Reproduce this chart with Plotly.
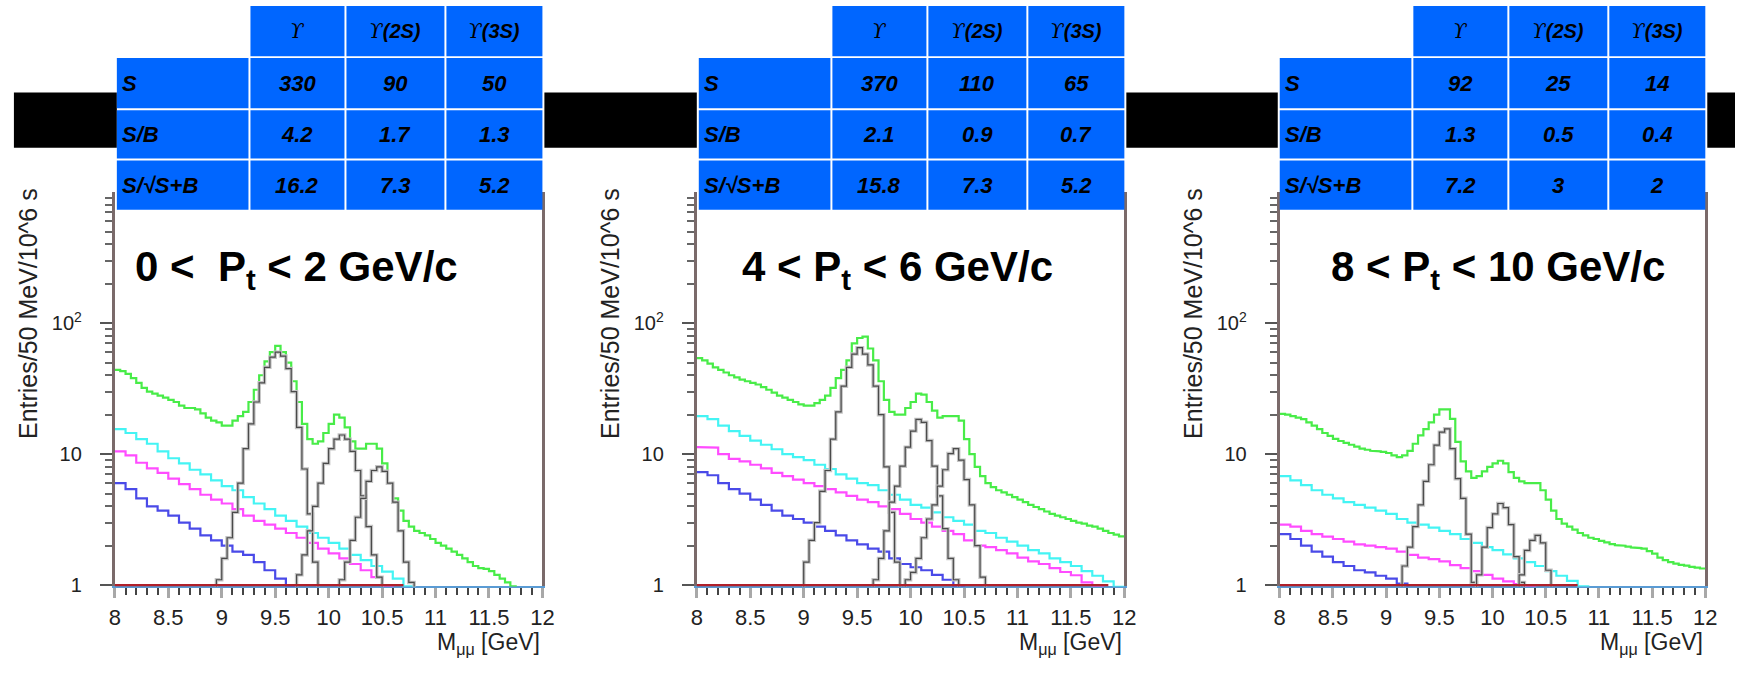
import numpy as np
import plotly.graph_objects as go

# ------------------------------------------------------------------ data
panel_titles = ["0 <\u00a0 P<sub>t</sub> < 2 GeV/c",
                "4 < P<sub>t</sub> < 6 GeV/c",
                "8 < P<sub>t</sub> < 10 GeV/c"]
col_headers = ["\u03d2", "\u03d2(2S)", "\u03d2(3S)"]
row_labels = ["S", "S/B", "S/\u221aS+B"]
table_p1 = [["330", "90", "50"], ["4.2", "1.7", "1.3"], ["16.2", "7.3", "5.2"]]
table_p2 = [["370", "110", "65"], ["2.1", "0.9", "0.7"], ["15.8", "7.3", "5.2"]]
table_p3 = [["92", "25", "14"], ["1.3", "0.5", "0.4"], ["7.2", "3", "2"]]

x_ticks = [8, 8.5, 9, 9.5, 10, 10.5, 11, 11.5, 12]
y_tickvals = [1, 10, 100]
y_ticktext = ["1", "10", "10<sup>2</sup>"]
y_minor = [2, 3, 4, 5, 6, 7, 8, 9, 20, 30, 40, 50, 60, 70, 80, 90,
           200, 300, 400, 500, 600, 700, 800, 900]

M_START = 8.0
GREEN_BIN = 0.05
BKG_BIN = 0.1
PEAK_BIN = 0.05

# total (green), 50 MeV bins from 8.0
green_p1 = [44, 43, 41, 38, 35, 32, 30, 29, 28, 27,
            26, 25, 23.5, 22.5, 22.5, 22, 20.5, 19, 18, 17.5,
            16.5, 16.5, 18, 19.5, 21, 25, 31, 40, 51, 60,
            67, 60, 50, 36, 25, 17, 13, 12, 12.5, 14.5,
            17, 20, 19, 16, 12.5, 11, 11, 12, 12, 11,
            8.5, 6.0, 4.6, 3.7, 3.1, 2.8, 2.6, 2.5, 2.4, 2.25,
            2.1, 2.0, 1.9, 1.8, 1.7, 1.6, 1.5, 1.4, 1.35, 1.33,
            1.28, 1.2, 1.12, 1.05, 0.98, 0.92, 0.87, 0.82, 0.78, 0.74]
green_p2 = [54, 52, 49, 46, 44, 42, 40, 38.5, 37, 36,
            35, 34, 32.5, 31, 29.5, 28, 27, 26, 25, 24,
            23.5, 23.5, 24.5, 26, 28, 32, 38, 44, 52, 70,
            77, 79, 64, 52, 36, 26, 21, 20, 20, 22.5,
            25, 29, 28.5, 25, 21.5, 19, 19.5, 19.5, 19.5, 18,
            13, 10, 8.0, 6.8, 6.0, 5.6, 5.3, 5.1, 4.9, 4.7,
            4.5, 4.3, 4.1, 3.95, 3.8, 3.65, 3.5, 3.4, 3.3, 3.2,
            3.1, 3.0, 2.95, 2.85, 2.8, 2.7, 2.6, 2.5, 2.43, 2.36]
green_p3 = [20.3, 20, 19.5, 19, 18.5, 17.5, 16.5, 15.5, 14.5, 13.8,
            13.1, 12.6, 12.2, 11.8, 11.4, 11.0, 10.8, 10.6, 10.5, 10.4,
            10.2, 9.8, 9.5, 9.8, 10.6, 12, 13.9, 15.5, 17.5, 20,
            22, 22, 18.6, 12.4, 8.8, 7.4, 6.6, 6.8, 7.4, 8.0,
            8.5, 8.9, 8.5, 7.3, 6.6, 6.2, 6.0, 6.0, 6.0, 5.3,
            4.5, 3.7, 3.2, 2.95, 2.8, 2.65, 2.5, 2.4, 2.3, 2.25,
            2.18, 2.12, 2.06, 2.02, 2.0, 1.97, 1.94, 1.92, 1.9, 1.82,
            1.74, 1.62, 1.55, 1.5, 1.46, 1.43, 1.41, 1.38, 1.36, 1.34]

# background components, 100 MeV steps from 8.0
cyan_p1 = [15.5, 14.5, 13, 12, 10.5, 9.3, 8.5, 7.6, 7.0, 6.3,
           5.7, 5.3, 4.7, 4.2, 3.8, 3.4, 3.1, 2.8, 2.5, 2.3,
           2.1, 1.9, 1.7, 1.55, 1.4, 1.27, 1.12, 0.98, 0.9, 0.8]
magenta_p1 = [10.5, 9.8, 8.6, 7.8, 7.2, 6.5, 5.9, 5.4, 4.9, 4.5,
              4.2, 3.8, 3.4, 3.1, 2.9, 2.7, 2.5, 2.3, 2.1, 1.9,
              1.75, 1.6, 1.45, 1.3, 1.15, 0.98, 0.9, 0.82]
blue_p1 = [6.0, 5.4, 4.6, 4.0, 3.7, 3.4, 3.0, 2.7, 2.4, 2.2,
           2.0, 1.8, 1.7, 1.5, 1.3, 1.12, 0.97, 0.88, 0.8]

cyan_p2 = [19.5, 18.5, 16.5, 15, 13.8, 12.7, 11.8, 10.9, 10.0, 9.5,
           9.0, 8.3, 7.7, 7.0, 6.5, 6.0, 5.8, 5.3, 4.9, 4.5,
           4.1, 3.9, 3.6, 3.3, 3.1, 2.9, 2.6, 2.5, 2.3, 2.15,
           2.0, 1.85, 1.75, 1.6, 1.5, 1.4, 1.28, 1.18, 1.07, 0.97]
magenta_p2 = [11.3, 11.2, 10.0, 9.2, 8.8, 8.3, 7.8, 7.2, 6.8, 6.4,
              6.0, 5.7, 5.4, 5.1, 4.8, 4.5, 4.3, 4.0, 3.8, 3.5,
              3.2, 3.0, 2.8, 2.6, 2.45, 2.2, 2.0, 1.95, 1.85, 1.75,
              1.62, 1.52, 1.45, 1.35, 1.26, 1.19, 1.05, 0.97, 0.9, 0.85]
blue_p2 = [7.3, 6.9, 6.0, 5.4, 5.0, 4.5, 4.1, 3.7, 3.4, 3.2,
           3.0, 2.8, 2.6, 2.4, 2.2, 2.05, 1.9, 1.8, 1.6, 1.45,
           1.37, 1.3, 1.2, 1.1, 0.97, 0.9, 0.85]

cyan_p3 = [6.8, 6.3, 5.8, 5.3, 4.9, 4.6, 4.3, 4.1, 3.9, 3.7,
           3.5, 3.2, 3.0, 2.9, 2.75, 2.6, 2.45, 2.25, 2.1, 1.95,
           1.85, 1.72, 1.6, 1.5, 1.4, 1.28, 1.18, 1.08, 0.98, 0.9]
magenta_p3 = [2.9, 2.8, 2.6, 2.45, 2.35, 2.25, 2.15, 2.05, 2.0, 1.95,
              1.9, 1.8, 1.7, 1.62, 1.58, 1.52, 1.42, 1.35, 1.28, 1.2,
              1.12, 1.07, 1.02, 0.97, 0.92, 0.88]
blue_p3 = [2.45, 2.25, 2.0, 1.8, 1.65, 1.5, 1.4, 1.3, 1.25, 1.18,
           1.12, 1.03, 0.95, 0.9, 0.86]

# Upsilon signal peaks: (first bin edge, 50 MeV bin contents)
peaks_p1 = [(8.95, [1.1, 1.6, 2.3, 3.6, 6.0, 11, 17, 25, 35, 46, 55, 60, 56, 45, 30, 16, 7.7, 3.5, 1.5]),
            (9.70, [1.2, 1.7, 2.6, 4.0, 6.0, 8.5, 11, 13, 14, 13, 10.5, 7.5, 4.8, 2.8, 1.7, 1.15]),
            (10.10, [1.1, 1.5, 2.2, 3.3, 4.6, 6.2, 7.5, 8.0, 7.4, 6.0, 4.3, 2.6, 1.5, 1.05])]
peaks_p2 = [(9.00, [1.5, 2.2, 3.0, 5.2, 7.5, 13, 21, 33, 46, 58, 65, 58, 48, 33, 20, 8, 3.6, 1.5]),
            (9.65, [1.1, 1.6, 2.6, 4.3, 5.7, 8.1, 11.3, 15, 18.4, 17.5, 12.7, 8.1, 4.8, 2.7, 1.6, 1.1]),
            (9.95, [1.1, 1.25, 1.6, 2.3, 3.2, 4.1, 5.7, 7.6, 10.1, 11, 9.0, 6.4, 4.1, 2.0, 1.15])]
peaks_p3 = [(9.15, [1.4, 1.95, 2.8, 4.1, 6.2, 8.3, 11.7, 14.7, 15.6, 11, 6.5, 4.6, 2.45, 1.05]),
            (9.85, [1.2, 1.95, 2.75, 3.5, 4.2, 3.9, 2.9, 1.65, 1.05]),
            (10.25, [1.2, 1.84, 2.2, 2.4, 2.1, 1.3])]

# extent of the (sub-floor) red component drawn along the log floor
red_floor_end = [10.7, 11.85, 10.8]

panels = [
    dict(green=green_p1, cyan=cyan_p1, magenta=magenta_p1, blue=blue_p1, peaks=peaks_p1, table=table_p1),
    dict(green=green_p2, cyan=cyan_p2, magenta=magenta_p2, blue=blue_p2, peaks=peaks_p2, table=table_p2),
    dict(green=green_p3, cyan=cyan_p3, magenta=magenta_p3, blue=blue_p3, peaks=peaks_p3, table=table_p3),
]

# ------------------------------------------------------------------ layout constants (pixels)
W, H = 1747, 674
PANEL_L = [110, 698, 1287]
PANEL_R = [542, 1130, 1717]
TABLE_L = [112, 700, 1287]
TOP_PX, BOT_PX = 195.0, 595.3
YRANGE = [-0.01, 3.0]
COLS = [(0, 133), (135, 230), (232, 331), (333, 430)]
ROWS = [(6, 57), (59, 110), (112, 161), (163, 213)]
BARS = [(8, 112), (544, 698), (1132, 1285), (1719, 1747)]
BAR_Y = (94, 150)
TITLE_X = [294, 901, 1508]
TITLE_Y = 274
YTITLE_DX = -87
YTITLE_Y = 318
XTITLE_Y = 653
TABLE_BLUE = "#0066ff"
FLOOR = 0.5  # level used to drop histogram edges below the log floor


def fx(p):
    return p / W


def fy(p):
    return 1 - p / H


def steps(start, width, vals, close=False):
    vals = np.asarray(vals, float)
    edges = start + width * np.arange(len(vals) + 1)
    x = np.repeat(edges, 2)[1:-1]
    y = np.repeat(vals, 2)
    if close:
        x = np.concatenate([[edges[0]], x, [edges[-1]]])
        y = np.concatenate([[FLOOR], y, [FLOOR]])
    return x, y


fig = go.Figure()
shapes = []
annotations = []

for i, pdata in enumerate(panels):
    sfx = "" if i == 0 else str(i + 1)
    xa, ya = "x" + sfx, "y" + sfx

    for key, color in [("blue", "#4a4ae8"), ("magenta", "#ff4cff"), ("cyan", "#44f4f4")]:
        x, y = steps(M_START, BKG_BIN, pdata[key])
        fig.add_trace(go.Scatter(x=x, y=y, mode="lines", line=dict(color=color, width=2.2),
                                 xaxis=xa, yaxis=ya, showlegend=False, hoverinfo="skip"))
    x, y = steps(M_START, GREEN_BIN, pdata["green"])
    fig.add_trace(go.Scatter(x=x, y=y, mode="lines", line=dict(color="#48ec48", width=2.2),
                             xaxis=xa, yaxis=ya, showlegend=False, hoverinfo="skip"))
    for start, vals in pdata["peaks"]:
        x, y = steps(start, PEAK_BIN, vals, close=True)
        fig.add_trace(go.Scatter(x=x, y=y, mode="lines", line=dict(color="#c4c4c4", width=3.5),
                                 xaxis=xa, yaxis=ya, showlegend=False, hoverinfo="skip"))
        fig.add_trace(go.Scatter(x=x, y=y, mode="lines", line=dict(color="#4a4a4a", width=1.2),
                                 xaxis=xa, yaxis=ya, showlegend=False, hoverinfo="skip"))
    fig.add_trace(go.Scatter(x=[M_START, red_floor_end[i]], y=[1, 1], mode="lines",
                             line=dict(color="#b0202a", width=2.5),
                             xaxis=xa, yaxis=ya, showlegend=False, hoverinfo="skip"))

    fig.layout["xaxis" + sfx] = dict(
        domain=[fx(PANEL_L[i]), fx(PANEL_R[i])], range=[8, 12], anchor=ya,
        tickmode="array", tickvals=x_ticks, ticks="outside", ticklen=10, tickwidth=2.5,
        tickcolor="#a8a8a8", showline=True, linecolor="#5a9bd4", linewidth=2,
        showgrid=False, zeroline=False, layer="below traces",
        tickfont=dict(family="Liberation Sans", size=22, color="#222"),
        minor=dict(dtick=0.1, tick0=8, ticks="outside", ticklen=7, tickwidth=2, tickcolor="#444"),
        fixedrange=True,
    )
    fig.layout["yaxis" + sfx] = dict(
        type="log", domain=[fy(BOT_PX), fy(TOP_PX)], range=YRANGE, anchor=xa,
        tickmode="array", tickvals=y_tickvals, ticktext=y_ticktext,
        ticks="outside", ticklen=12, tickwidth=2, tickcolor="#555",
        showline=True, linecolor="#7a6a6a", linewidth=3, mirror=True,
        showgrid=False, zeroline=False, layer="below traces",
        tickfont=dict(family="Liberation Sans", size=20, color="#222"),
        ticklabelstandoff=14,
        minor=dict(tickmode="array", tickvals=y_minor, ticks="outside", ticklen=7,
                   tickwidth=2, tickcolor="#666"),
        fixedrange=True,
    )

    # panel title
    annotations.append(dict(
        x=fx(TITLE_X[i]), y=fy(TITLE_Y), xref="paper", yref="paper",
        xanchor="center", yanchor="middle", showarrow=False, text=panel_titles[i],
        font=dict(family="Liberation Sans", size=42, color="#000", weight="bold")))
    # axis titles
    annotations.append(dict(
        x=fx(PANEL_L[i] + YTITLE_DX), y=fy(YTITLE_Y), xref="paper", yref="paper",
        xanchor="center", yanchor="middle", showarrow=False, textangle=-90,
        text="Entries/50 MeV/10^6 s",
        font=dict(family="Liberation Sans", size=25, color="#222")))
    annotations.append(dict(
        x=fx(PANEL_R[i]), y=fy(XTITLE_Y), xref="paper", yref="paper",
        xanchor="right", yanchor="middle", showarrow=False,
        text="M<sub>\u03bc\u03bc</sub> [GeV]",
        font=dict(family="Liberation Sans", size=23, color="#222")))

# black bars behind the tables
for (a, b) in BARS:
    shapes.append(dict(type="rect", xref="paper", yref="paper", layer="above",
                       x0=fx(a), x1=fx(b), y0=fy(BAR_Y[1]), y1=fy(BAR_Y[0]),
                       fillcolor="#000", line=dict(width=0)))

cell_font = dict(family="Liberation Sans", size=22, color="#000", weight="bold", style="italic")
for i, pdata in enumerate(panels):
    L = TABLE_L[i]
    for r, (r0, r1) in enumerate(ROWS):
        for c, (c0, c1) in enumerate(COLS):
            if r == 0 and c == 0:
                continue
            shapes.append(dict(type="rect", xref="paper", yref="paper", layer="above",
                               x0=fx(L + c0), x1=fx(L + c1), y0=fy(r1), y1=fy(r0),
                               fillcolor=TABLE_BLUE, line=dict(width=0)))
            ymid = fy((r0 + r1) / 2)
            if r == 0:
                head = col_headers[c - 1]
                txt = ('<span style="font-family:DejaVu Serif;font-size:20px;'
                       'font-weight:normal;font-style:italic">'
                       + head[0] + "</span>" + head[1:])
                annotations.append(dict(x=fx(L + (c0 + c1) / 2), y=ymid, xref="paper", yref="paper",
                                        xanchor="center", yanchor="middle", showarrow=False,
                                        text=txt, font=dict(cell_font, size=20)))
            elif c == 0:
                annotations.append(dict(x=fx(L + c0 + 3), y=ymid, xref="paper", yref="paper",
                                        xanchor="left", yanchor="middle", showarrow=False,
                                        text=row_labels[r - 1], font=cell_font))
            else:
                annotations.append(dict(x=fx(L + (c0 + c1) / 2), y=ymid, xref="paper", yref="paper",
                                        xanchor="center", yanchor="middle", showarrow=False,
                                        text=pdata["table"][r - 1][c - 1], font=cell_font))

fig.update_layout(
    width=W, height=H, margin=dict(l=0, r=0, t=0, b=0),
    paper_bgcolor="white", plot_bgcolor="white",
    shapes=shapes, annotations=annotations, showlegend=False,
)

fig.write_html("out.html")
